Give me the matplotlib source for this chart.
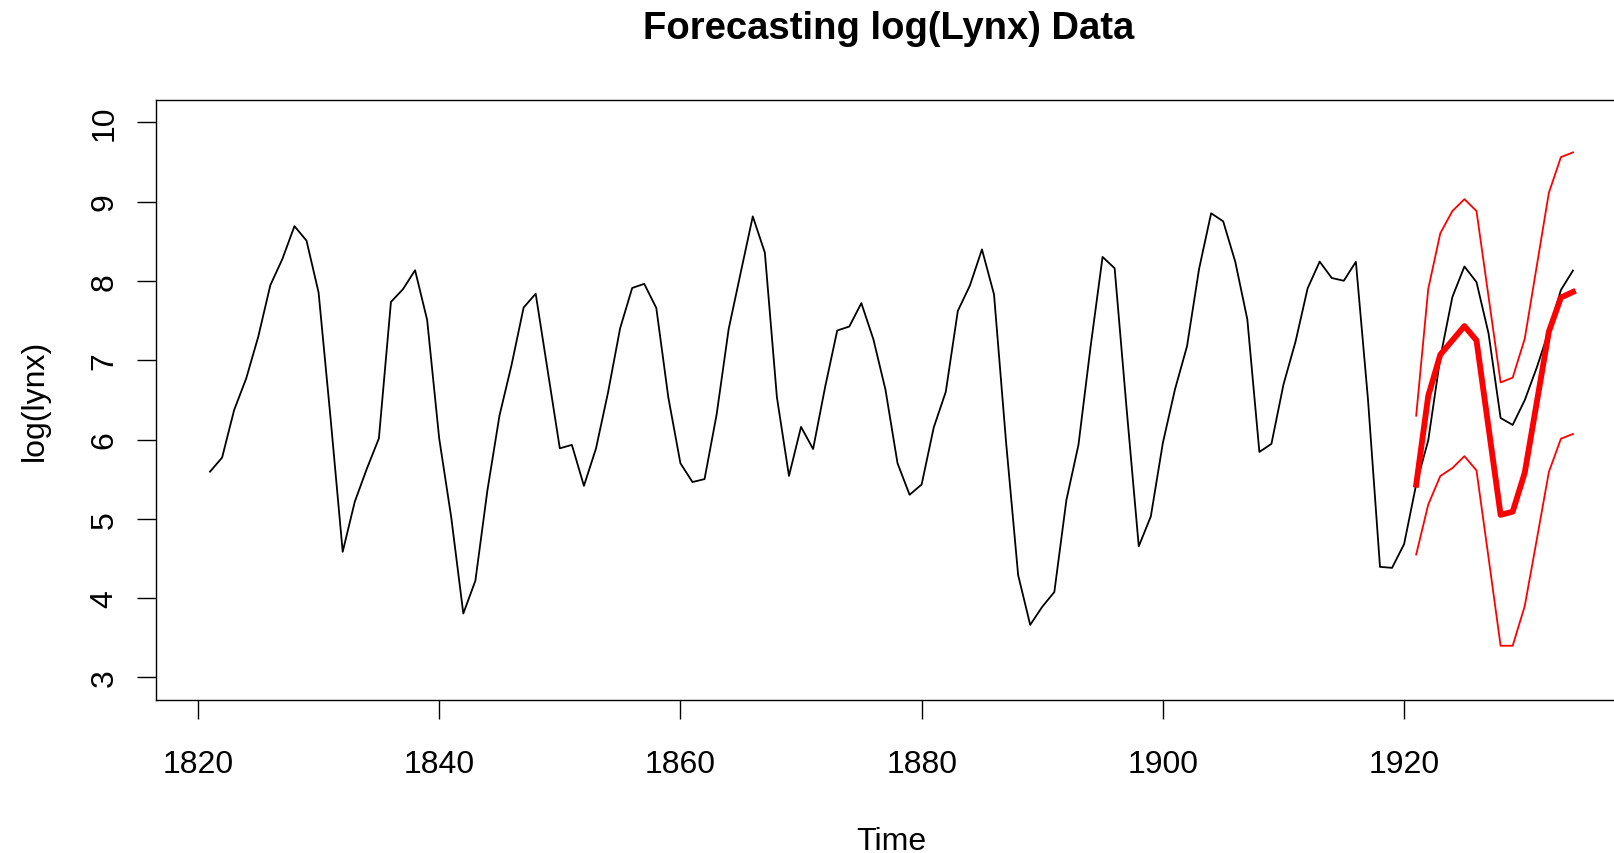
import numpy as np
import matplotlib
matplotlib.use("Agg")
import matplotlib.pyplot as plt

plt.rcParams['font.family'] = ['Liberation Sans', 'DejaVu Sans']

# Annual Canadian lynx trappings 1821-1934
years = list(range(1821, 1935))
lynx = [269, 321, 585, 871, 1475, 2821, 3928, 5943, 4950, 2577,
        523, 98, 184, 279, 409, 2285, 2685, 3409, 1824, 409,
        151, 45, 68, 213, 546, 1033, 2129, 2536, 957, 361,
        377, 225, 360, 731, 1638, 2725, 2871, 2119, 684, 299,
        236, 245, 552, 1623, 3311, 6721, 4254, 687, 255, 473,
        358, 784, 1594, 1676, 2251, 1426, 756, 299, 201, 229,
        469, 736, 2042, 2811, 4431, 2511, 389, 73, 39, 49,
        59, 188, 377, 1292, 4031, 3495, 587, 105, 153, 387,
        758, 1307, 3465, 6991, 6313, 3794, 1836, 345, 382, 808,
        1388, 2713, 3800, 3091, 2985, 3790, 674, 81, 80, 108,
        229, 399, 1132, 2432, 3574, 2935, 1537, 529, 485, 662,
        1000, 1590, 2657, 3396]

fc_years = list(range(1921, 1935))
fc_mean = [5.43, 6.55, 7.07, 7.25, 7.43, 7.25, 6.15, 5.05, 5.09, 5.58, 6.47, 7.36, 7.79, 7.86]
fc_upper = [6.30, 7.90, 8.60, 8.88, 9.03, 8.88, 7.80, 6.72, 6.78, 7.27, 8.19, 9.11, 9.56, 9.62]
fc_lower = [4.55, 5.18, 5.54, 5.64, 5.79, 5.61, 4.51, 3.40, 3.40, 3.90, 4.74, 5.59, 6.01, 6.07]

x_ticks = [1820, 1840, 1860, 1880, 1900, 1920]
y_ticks = [3, 4, 5, 6, 7, 8, 9, 10]

W, H = 1614, 854
fig = plt.figure(figsize=(W / 100, H / 100), dpi=100)
left, right, top, bottom = 155.5, 1627.5, 101, 700.7
ax = fig.add_axes([left / W, 1 - bottom / H, (right - left) / W, (bottom - top) / H])

ax.plot(years, np.log(lynx), color='black', lw=1.3)
ax.plot(fc_years, fc_mean, color='#ff0000', lw=4.2, solid_joinstyle='round')
ax.plot(fc_years, fc_upper, color='#ff0000', lw=1.3)
ax.plot(fc_years, fc_lower, color='#ff0000', lw=1.3)

ax.set_xlim(1816.48, 1938.52)
ax.set_ylim(2.72, 10.28)
ax.set_xticks(x_ticks)
ax.set_yticks(y_ticks)
ax.set_xticklabels([str(v) for v in x_ticks])
ax.set_yticklabels([str(v) for v in y_ticks], rotation=90, va='center')
ax.tick_params(axis='both', length=13.7, width=1.0, labelsize=23, direction='out', color='black')
ax.tick_params(axis='x', pad=21.5)
ax.tick_params(axis='y', pad=12.3)
for s in ax.spines.values():
    s.set_linewidth(1.0)
    s.set_color('black')

fig.text(889 / W, 1 - 39 / H, 'Forecasting log(Lynx) Data',
         ha='center', va='baseline', fontsize=27.5, fontweight='bold')
fig.text(891 / W, 1 - 850 / H, 'Time', ha='center', va='baseline', fontsize=23)
fig.text(35 / W, 1 - 400 / H, 'log(lynx)', ha='center', va='center',
         rotation=90, fontsize=23)

fig.savefig('out.png', dpi=100)
